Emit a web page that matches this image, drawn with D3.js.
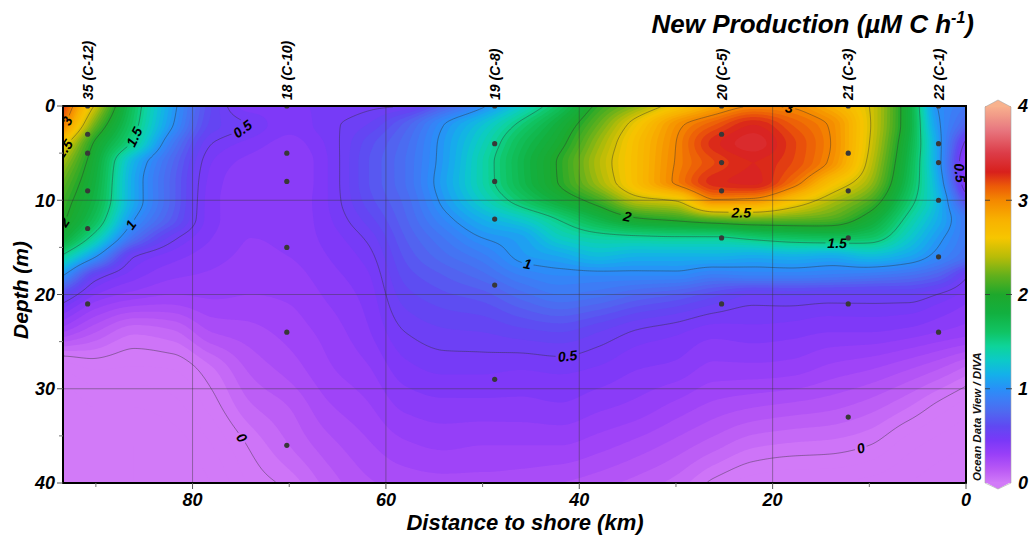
<!DOCTYPE html>
<html>
<head>
<meta charset="utf-8">
<script src="https://cdn.jsdelivr.net/npm/d3@7"></script>
<style>
  html, body { margin: 0; padding: 0; background: #fff; }
  svg { display: block; }
  text { font-family: "Liberation Sans", Arial, Helvetica, sans-serif; }
</style>
</head>
<body>
<svg id="chart" width="1032" height="536"></svg>
<script>
// ---------------- data ----------------
// Gridded section: distance to shore (km) columns, depth (m) rows
const distanceKm = [93.4, 90, 86, 82, 78, 74, 70, 66, 62, 58, 54, 50, 46, 42, 38, 34, 30, 26, 22, 18, 14, 10, 6, 3, 0];
const depthM = [0, 2, 4, 6, 8, 10, 12, 14, 16, 18, 20, 24, 28, 32, 36, 40];

// New production (µM C h-1); one array per distance column, values down the depth rows
const production = [
  [3.25, 3.05, 2.6, 2.35, 2.2, 2.1, 2.03, 1.85, 1.45, 1.0, 0.6, 0.25, -0.1, -0.2, -0.2, -0.2],
  [2.45, 2.2, 1.95, 1.85, 1.8, 1.75, 1.65, 1.4, 1.0, 0.55, 0.4, 0.15, -0.05, -0.15, -0.2, -0.2],
  [1.62, 1.56, 1.44, 1.15, 1.1, 1.1, 1.0, 0.8, 0.5, 0.42, 0.33, 0.06, -0.06, -0.15, -0.2, -0.2],
  [1.05, 1.0, 0.85, 0.75, 0.72, 0.72, 0.68, 0.52, 0.42, 0.36, 0.3, 0.09, -0.05, -0.12, -0.18, -0.2],
  [0.6, 0.58, 0.5, 0.45, 0.43, 0.42, 0.42, 0.4, 0.37, 0.34, 0.31, 0.2, 0.04, -0.03, -0.1, -0.15],
  [0.42, 0.49, 0.43, 0.38, 0.36, 0.36, 0.36, 0.35, 0.34, 0.32, 0.3, 0.23, 0.16, 0.09, 0.01, -0.04],
  [0.44, 0.42, 0.38, 0.35, 0.35, 0.36, 0.36, 0.36, 0.35, 0.33, 0.31, 0.27, 0.22, 0.15, 0.1, 0.02],
  [0.46, 0.48, 0.46, 0.45, 0.45, 0.45, 0.44, 0.42, 0.4, 0.38, 0.36, 0.32, 0.29, 0.24, 0.18, 0.12],
  [0.48, 0.55, 0.62, 0.64, 0.64, 0.62, 0.57, 0.51, 0.47, 0.44, 0.42, 0.39, 0.34, 0.29, 0.24, 0.19],
  [0.5, 0.72, 0.78, 0.8, 0.8, 0.77, 0.74, 0.7, 0.66, 0.62, 0.58, 0.5, 0.43, 0.36, 0.29, 0.22],
  [0.72, 1.0, 1.05, 1.06, 1.08, 1.04, 0.95, 0.85, 0.78, 0.7, 0.64, 0.54, 0.46, 0.38, 0.31, 0.23],
  [0.97, 1.25, 1.35, 1.4, 1.4, 1.32, 1.15, 1.0, 0.88, 0.78, 0.68, 0.55, 0.46, 0.38, 0.3, 0.23],
  [1.3, 1.55, 1.68, 1.73, 1.72, 1.59, 1.3, 1.08, 1.03, 0.9, 0.78, 0.58, 0.45, 0.38, 0.3, 0.22],
  [1.65, 1.85, 1.95, 2.03, 2.02, 1.85, 1.52, 1.32, 1.1, 0.95, 0.85, 0.6, 0.46, 0.39, 0.3, 0.2],
  [2.05, 2.21, 2.33, 2.39, 2.35, 2.1, 1.76, 1.42, 1.2, 0.95, 0.82, 0.55, 0.44, 0.36, 0.27, 0.17],
  [2.3, 2.6, 2.69, 2.7, 2.7, 2.42, 1.97, 1.45, 1.15, 0.95, 0.75, 0.49, 0.4, 0.33, 0.23, 0.13],
  [2.6, 2.95, 3.0, 3.01, 3.03, 2.52, 2.05, 1.47, 1.15, 0.95, 0.7, 0.46, 0.38, 0.28, 0.18, 0.08],
  [2.85, 3.15, 3.28, 3.2, 3.28, 2.98, 2.17, 1.47, 1.15, 0.88, 0.62, 0.42, 0.33, 0.23, 0.12, -0.02],
  [3.0, 3.3, 3.38, 3.3, 3.32, 2.95, 2.22, 1.55, 1.12, 0.9, 0.55, 0.43, 0.33, 0.2, 0.06, -0.08],
  [2.98, 3.15, 3.22, 3.2, 3.1, 2.68, 2.2, 1.62, 1.15, 0.9, 0.56, 0.42, 0.32, 0.18, 0.04, -0.1],
  [2.8, 2.98, 3.0, 2.97, 2.7, 2.4, 2.15, 1.65, 1.12, 0.88, 0.55, 0.4, 0.28, 0.16, 0.03, -0.1],
  [2.5, 2.52, 2.5, 2.45, 2.35, 2.15, 1.9, 1.6, 1.2, 0.85, 0.55, 0.4, 0.25, 0.12, 0.0, -0.12],
  [1.85, 1.85, 1.8, 1.75, 1.7, 1.6, 1.45, 1.3, 1.1, 0.8, 0.55, 0.38, 0.2, 0.05, -0.08, -0.15],
  [1.0, 1.05, 1.1, 1.1, 1.15, 1.2, 1.15, 1.05, 0.95, 0.72, 0.5, 0.35, 0.15, -0.02, -0.12, -0.18],
  [0.85, 0.72, 0.45, 0.32, 0.36, 0.6, 0.85, 0.85, 0.8, 0.52, 0.43, 0.32, 0.08, -0.08, -0.15, -0.2]
];

// Stations and their sampled depths
const stationNames = ["35 (C-12)", "18 (C-10)", "19 (C-8)", "20 (C-5)", "21 (C-3)", "22 (C-1)"];
const stationKm = [90.85, 70.25, 48.75, 25.28, 12.18, 2.84];
const sampleDepths = [
  [0, 3, 5, 9, 13, 21],
  [0, 5, 8, 15, 24, 36],
  [0, 4, 8, 12, 19, 29],
  [0, 3, 6, 9, 14, 21],
  [0, 5, 9, 14, 21, 33],
  [0, 4, 6, 10, 16, 24]
];

// Contour levels and where their labels sit
const contourLevels = [0, 0.5, 1, 1.5, 2, 2.5, 3];
const labelLevel = [3, 2.5, 1.5, 1, 2, 0.5, 0, 1, 0.5, 2, 2.5, 3, 1.5, 0.5, 0];
const labelKm    = [92.4, 93.25, 85.8, 86.2, 93.5, 74.4, 75.2, 45.4, 41.3, 35.1, 23.2, 18.2, 13.4, 0.9, 11.0];
const labelDepth = [1.8, 4.9, 3.3, 12.8, 12.9, 2.8, 35.4, 16.6, 26.1, 11.6, 11.4, 0.1, 14.5, 7.1, 36.2];

// Axis ticks
const xTicks = [80, 60, 40, 20, 0];
const xMinorTicks = [90, 70, 50, 30, 10];
const yTicks = [0, 10, 20, 30, 40];
const yMinorTicks = [5, 15, 25, 35];
const colorTicks = [0, 1, 2, 3, 4];

// Colour ramp
const paletteValues = [0, 0.15, 0.3, 0.45, 0.6, 0.75, 0.9, 1.0, 1.15, 1.3, 1.45, 1.6, 1.8, 2.0, 2.2, 2.4, 2.6, 2.8, 3.0, 3.15, 3.3, 3.5, 3.75, 4.0];
const paletteColors = ["#d27af8", "#b858f5", "#9a40f8", "#7a38f8", "#6048f2", "#4f68f0", "#3a80f6", "#2890f8",
  "#14b0ea", "#0ccac8", "#0ed49a", "#10c464", "#12b040", "#1ea82c", "#62b01c", "#b8bc08", "#f6c600", "#f8b000",
  "#f48800", "#ec5a08", "#d8201c", "#dc3c48", "#e87880", "#f8b28e"];

// ---------------- layout ----------------
const plot = { left: 63, right: 966, top: 106, bottom: 483 };
const svg = d3.select("#chart");
svg.append("rect").attr("width", 1032).attr("height", 536).attr("fill", "#fff");

const x = d3.scaleLinear().domain([93.4, 0]).range([plot.left, plot.right]);
const y = d3.scaleLinear().domain([0, 40]).range([plot.top, plot.bottom]);
const color = d3.scaleLinear().domain(paletteValues).range(paletteColors).clamp(true);

// ---------------- field resampling ----------------
// monotone piecewise cubic Hermite through the grid nodes
function pchip(xs, ys) {
  const n = xs.length, h = [], d = [], m = new Array(n);
  for (let i = 0; i < n - 1; i++) { h[i] = xs[i + 1] - xs[i]; d[i] = (ys[i + 1] - ys[i]) / h[i]; }
  m[0] = d[0]; m[n - 1] = d[n - 2];
  for (let i = 1; i < n - 1; i++) {
    if (d[i - 1] * d[i] <= 0) m[i] = 0;
    else {
      const w1 = 2 * h[i] + h[i - 1], w2 = h[i] + 2 * h[i - 1];
      m[i] = (w1 + w2) / (w1 / d[i - 1] + w2 / d[i]);
    }
  }
  return v => {
    let i = d3.bisectRight(xs, v) - 1;
    i = Math.max(0, Math.min(n - 2, i));
    const t = (v - xs[i]) / h[i], t2 = t * t, t3 = t2 * t;
    return (2 * t3 - 3 * t2 + 1) * ys[i] + (t3 - 2 * t2 + t) * h[i] * m[i]
         + (-2 * t3 + 3 * t2) * ys[i + 1] + (t3 - t2) * h[i] * m[i + 1];
  };
}

const nx = 452, ny = 189;
const gx = d3.scaleLinear().domain([0, nx]).range([plot.left, plot.right]);
const gy = d3.scaleLinear().domain([0, ny]).range([plot.top, plot.bottom]);
const kmAsc = distanceKm.slice().reverse();

const rowsFine = depthM.map((_, r) => {
  const f = pchip(kmAsc, production.map(col => col[r]).reverse());
  return d3.range(nx).map(i => f(x.invert(gx(i + 0.5))));
});
const values = new Float64Array(nx * ny);
for (let i = 0; i < nx; i++) {
  const f = pchip(depthM, rowsFine.map(row => row[i]));
  for (let j = 0; j < ny; j++) values[j * nx + i] = f(y.invert(gy(j + 0.5)));
}

const gridProjection = d3.geoTransform({
  point(px, py) { this.stream.point(gx(px), gy(py)); }
});
const path = d3.geoPath(gridProjection);

// ---------------- defs ----------------
const defs = svg.append("defs");
defs.append("clipPath").attr("id", "plotClip")
  .append("rect").attr("x", plot.left).attr("y", plot.top)
  .attr("width", plot.right - plot.left).attr("height", plot.bottom - plot.top);
const gapMask = defs.append("mask").attr("id", "labelGaps").attr("maskUnits", "userSpaceOnUse")
  .attr("x", 0).attr("y", 0).attr("width", 1032).attr("height", 536);
gapMask.append("rect").attr("width", 1032).attr("height", 536).attr("fill", "#fff");

// ---------------- filled field ----------------
const field = svg.append("g").attr("clip-path", "url(#plotClip)");
const bandStep = 0.05;
const bandThresholds = d3.range(-0.6, 4.4, bandStep);
const bands = d3.contours().size([nx, ny]).thresholds(bandThresholds)(values);
field.selectAll("path.band").data(bands).join("path")
  .attr("class", "band")
  .attr("d", path)
  .attr("fill", d => color(d.value + bandStep / 2));

// grid lines
field.selectAll("line.gx").data(xTicks.filter(t => t > 0)).join("line")
  .attr("x1", d => x(d)).attr("x2", d => x(d)).attr("y1", plot.top).attr("y2", plot.bottom)
  .attr("stroke", "#3a3a3a").attr("stroke-opacity", 0.55).attr("stroke-width", 0.8);
field.selectAll("line.gy").data(yTicks.filter(t => t > 0 && t < 40)).join("line")
  .attr("y1", d => y(d)).attr("y2", d => y(d)).attr("x1", plot.left).attr("x2", plot.right)
  .attr("stroke", "#3a3a3a").attr("stroke-opacity", 0.55).attr("stroke-width", 0.8);

// contour lines
const isolines = d3.contours().size([nx, ny]).thresholds(contourLevels)(values);
const lineG = field.append("g").attr("mask", "url(#labelGaps)");
lineG.selectAll("path").data(isolines).join("path")
  .attr("d", path).attr("fill", "none")
  .attr("stroke", "#303030").attr("stroke-opacity", 0.6).attr("stroke-width", 0.7);

// contour labels, snapped onto their line and turned along it
function snapLabel(level, px0, py0) {
  const ci = gx.invert(px0) - 0.5, cj = gy.invert(py0) - 0.5, R = 8;
  let best = null, bd = Infinity;
  for (let j = Math.max(0, Math.floor(cj - R)); j <= Math.min(ny - 2, Math.ceil(cj + R)); j++) {
    for (let i = Math.max(0, Math.floor(ci - R)); i <= Math.min(nx - 2, Math.ceil(ci + R)); i++) {
      const a = values[j * nx + i] - level;
      const bR = values[j * nx + i + 1] - level, bD = values[(j + 1) * nx + i] - level;
      const cands = [];
      if (a * bR <= 0 && a !== bR) cands.push([i + a / (a - bR), j]);
      if (a * bD <= 0 && a !== bD) cands.push([i, j + a / (a - bD)]);
      for (const [pi, pj] of cands) {
        const dd = (pi - ci) ** 2 + (pj - cj) ** 2;
        if (dd < bd) { bd = dd; best = [pi, pj]; }
      }
    }
  }
  if (!best) return { px: px0, py: py0, angle: 0 };
  const ii = Math.min(nx - 3, Math.max(2, Math.round(best[0])));
  const jj = Math.min(ny - 3, Math.max(2, Math.round(best[1])));
  const cw = (plot.right - plot.left) / nx, ch = (plot.bottom - plot.top) / ny;
  const gxv = (values[jj * nx + ii + 2] - values[jj * nx + ii - 2]) / (4 * cw);
  const gyv = (values[(jj + 2) * nx + ii] - values[(jj - 2) * nx + ii]) / (4 * ch);
  let ang = Math.atan2(gyv, gxv) * 180 / Math.PI + 90;
  while (ang > 90) ang -= 180;
  while (ang <= -90) ang += 180;
  return { px: gx(best[0] + 0.5), py: gy(best[1] + 0.5), angle: ang };
}

const labelG = field.append("g");
labelLevel.forEach((lv, k) => {
  const p = snapLabel(lv, x(labelKm[k]), y(labelDepth[k]));
  const tr = `translate(${p.px},${p.py}) rotate(${p.angle})`;
  const t = labelG.append("text")
    .attr("transform", tr)
    .attr("text-anchor", "middle").attr("dy", "0.36em")
    .attr("font-size", 14).attr("font-weight", "bold").attr("font-style", "italic")
    .attr("fill", "#000").text(String(lv));
  const bb = t.node().getBBox();
  gapMask.append("rect").attr("transform", tr)
    .attr("x", bb.x - 2).attr("y", bb.y).attr("width", bb.width + 4).attr("height", bb.height)
    .attr("fill", "#000");
});

// sample points
const samples = stationKm.flatMap((km, i) => sampleDepths[i].map(d => ({ km, d })));
field.selectAll("circle.sample").data(samples).join("circle")
  .attr("class", "sample")
  .attr("cx", s => x(s.km)).attr("cy", s => y(s.d)).attr("r", 2.6)
  .attr("fill", "#383838");

// frame
svg.append("rect").attr("x", plot.left).attr("y", plot.top)
  .attr("width", plot.right - plot.left).attr("height", plot.bottom - plot.top)
  .attr("fill", "none").attr("stroke", "#000").attr("stroke-width", 2);

// ---------------- axes ----------------
const axisFont = g => g.attr("font-weight", "bold").attr("font-style", "italic").attr("fill", "#000");

svg.selectAll("line.xt").data(xTicks).join("line")
  .attr("x1", d => x(d)).attr("x2", d => x(d)).attr("y1", plot.bottom).attr("y2", plot.bottom + 6)
  .attr("stroke", "#555").attr("stroke-width", 1);
svg.selectAll("line.xm").data(xMinorTicks).join("line")
  .attr("x1", d => x(d)).attr("x2", d => x(d)).attr("y1", plot.bottom).attr("y2", plot.bottom + 4)
  .attr("stroke", "#777").attr("stroke-width", 1);
svg.selectAll("line.yt").data(yTicks).join("line")
  .attr("y1", d => y(d)).attr("y2", d => y(d)).attr("x1", plot.left - 6).attr("x2", plot.left)
  .attr("stroke", "#555").attr("stroke-width", 1);
svg.selectAll("line.ym").data(yMinorTicks).join("line")
  .attr("y1", d => y(d)).attr("y2", d => y(d)).attr("x1", plot.left - 4).attr("x2", plot.left)
  .attr("stroke", "#777").attr("stroke-width", 1);

svg.append("g").call(axisFont).selectAll("text").data(xTicks).join("text")
  .attr("x", d => x(d)).attr("y", 506).attr("text-anchor", "middle")
  .attr("font-size", 18).text(d => d);
svg.append("g").call(axisFont).selectAll("text").data(yTicks).join("text")
  .attr("x", 55).attr("y", d => y(d)).attr("dy", "0.36em").attr("text-anchor", "end")
  .attr("font-size", 18).text(d => d);

svg.append("text").call(axisFont)
  .attr("x", 525).attr("y", 530).attr("text-anchor", "middle").attr("font-size", 22)
  .text("Distance to shore (km)");
svg.append("text").call(axisFont)
  .attr("transform", "translate(28,290) rotate(-90)").attr("text-anchor", "middle").attr("font-size", 21)
  .text("Depth (m)");

// station names
svg.selectAll("text.station").data(stationNames).join("text")
  .attr("class", "station").call(axisFont)
  .attr("transform", (d, i) => `translate(${x(stationKm[i])},100) rotate(-90)`)
  .attr("dy", "0.36em").attr("text-anchor", "start").attr("font-size", 14)
  .text(d => d);

// title
const title = svg.append("text").call(axisFont)
  .attr("x", 974).attr("y", 33).attr("text-anchor", "end").attr("font-size", 26);
title.append("tspan").text("New Production (µM C h");
title.append("tspan").attr("font-size", 16).attr("dy", -10).text("-1");
title.append("tspan").attr("dy", 10).text(")");

// ---------------- colour bar ----------------
const cb = { left: 985, right: 1011, top: 106, bottom: 483 };
const cy = d3.scaleLinear().domain([0, 4]).range([cb.bottom, cb.top]);
const grad = defs.append("linearGradient").attr("id", "cbGrad")
  .attr("x1", 0).attr("y1", 1).attr("x2", 0).attr("y2", 0);
grad.selectAll("stop").data(d3.range(0, 4.0001, 0.05)).join("stop")
  .attr("offset", v => v / 4).attr("stop-color", v => color(v));
svg.append("rect").attr("x", cb.left).attr("y", cb.top)
  .attr("width", cb.right - cb.left).attr("height", cb.bottom - cb.top)
  .attr("fill", "url(#cbGrad)");
const mid = (cb.left + cb.right) / 2;
svg.append("path")
  .attr("d", `M${cb.left},${cy(4) + 1}L${mid},${cy(4) - 6}L${cb.right},${cy(4) + 1}Z`)
  .attr("fill", color(4));
svg.append("path")
  .attr("d", `M${cb.left},${cy(0) - 1}L${mid},${cy(0) + 6}L${cb.right},${cy(0) - 1}Z`)
  .attr("fill", color(0));
svg.append("path")
  .attr("d", `M${cb.left},${cy(0)}L${cb.left},${cy(4) + 1}L${mid},${cy(4) - 6}L${cb.right},${cy(4) + 1}L${cb.right},${cy(0)}L${mid},${cy(0) + 6}Z`)
  .attr("fill", "none").attr("stroke", "#a8a8a8").attr("stroke-width", 0.6);
svg.selectAll("line.cbl").data(colorTicks.filter(t => t > 0 && t < 4)).join("line")
  .attr("x1", cb.left).attr("x2", cb.left + 5).attr("y1", d => cy(d)).attr("y2", d => cy(d))
  .attr("stroke", "#333").attr("stroke-opacity", 0.8);
svg.selectAll("line.cbr").data(colorTicks.filter(t => t > 0 && t < 4)).join("line")
  .attr("x1", cb.right - 5).attr("x2", cb.right + 1).attr("y1", d => cy(d)).attr("y2", d => cy(d))
  .attr("stroke", "#333").attr("stroke-opacity", 0.8);
svg.append("g").call(axisFont).selectAll("text").data(colorTicks).join("text")
  .attr("x", 1018).attr("y", d => cy(d)).attr("dy", "0.36em").attr("font-size", 18)
  .text(d => d);

svg.append("text")
  .attr("transform", "translate(981,481) rotate(-90)")
  .attr("font-size", 11.5).attr("font-style", "italic").attr("font-weight", "bold").attr("fill", "#111")
  .text("Ocean Data View / DIVA");
</script>
</body>
</html>
